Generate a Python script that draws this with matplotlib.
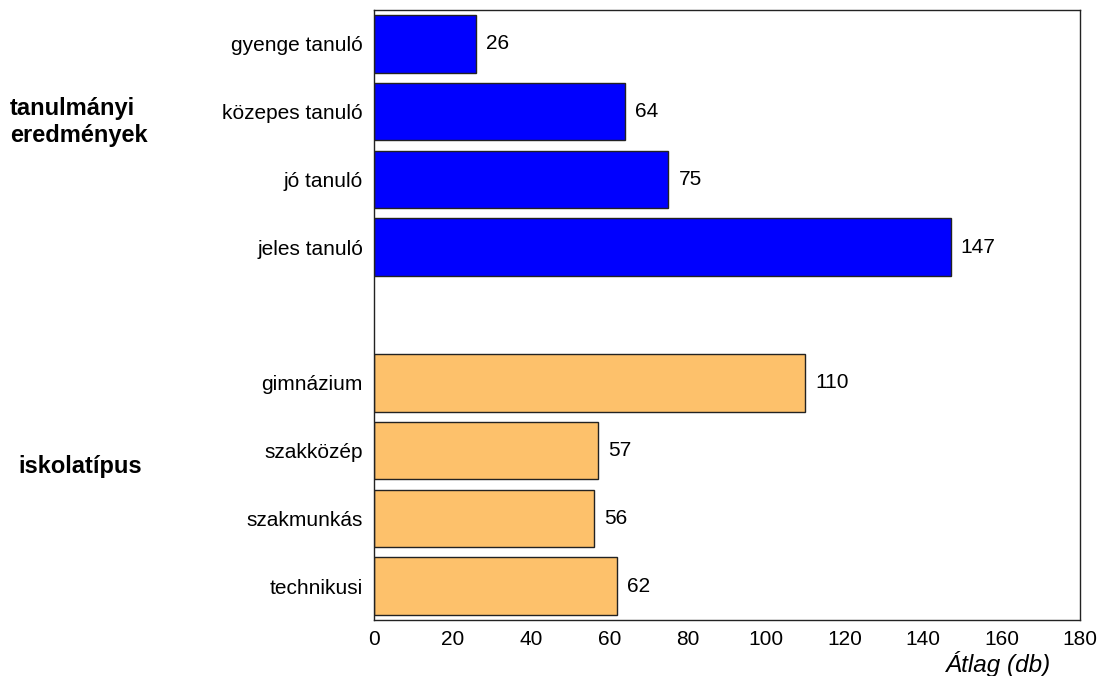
import matplotlib.pyplot as plt

plt.rcParams['font.family'] = ['Liberation Sans', 'DejaVu Sans']

labels_tan = ['gyenge tanuló', 'közepes tanuló', 'jó tanuló', 'jeles tanuló']
values_tan = [26, 64, 75, 147]
labels_isk = ['gimnázium', 'szakközép', 'szakmunkás', 'technikusi']
values_isk = [110, 57, 56, 62]
xticks = [0, 20, 40, 60, 80, 100, 120, 140, 160, 180]

pos_tan = [0, 1, 2, 3]
pos_isk = [5, 6, 7, 8]

fig = plt.figure(figsize=(11.05, 6.76), dpi=100)
ax = fig.add_axes([0.3385, 0.0828, 0.6389, 0.9024])

ax.barh(pos_tan, values_tan, height=0.85, color='#0000ff', edgecolor='#222222', linewidth=1)
ax.barh(pos_isk, values_isk, height=0.85, color='#fdc16b', edgecolor='#222222', linewidth=1)

for p, v in zip(pos_tan + pos_isk, values_tan + values_isk):
    ax.text(v + 2.6, p, str(v), va='center', ha='left', fontsize=15)

ax.set_xlim(0, 180)
ax.set_ylim(8.5, -0.5)
ax.set_xticks(xticks)
ax.set_yticks(pos_tan + pos_isk)
ax.set_yticklabels(labels_tan + labels_isk)
ax.tick_params(axis='both', length=0, labelsize=15)
ax.tick_params(axis='y', pad=8)
ax.tick_params(axis='x', pad=7)
for s in ax.spines.values():
    s.set_color('#222222')
    s.set_linewidth(1)

fig.text(10 / 1105, 1 - 122 / 676, 'tanulmányi\neredmények', ha='left', va='center',
         fontsize=17, fontweight='bold', linespacing=1.25)
fig.text(18 / 1105, 1 - 467 / 676, 'iskolatípus', ha='left', va='center',
         fontsize=17, fontweight='bold')
fig.text(1051 / 1105, 1 - 664 / 676, 'Átlag (db)', ha='right', va='center',
         fontsize=17.5, fontstyle='italic')

fig.savefig('out.png', dpi=100)
